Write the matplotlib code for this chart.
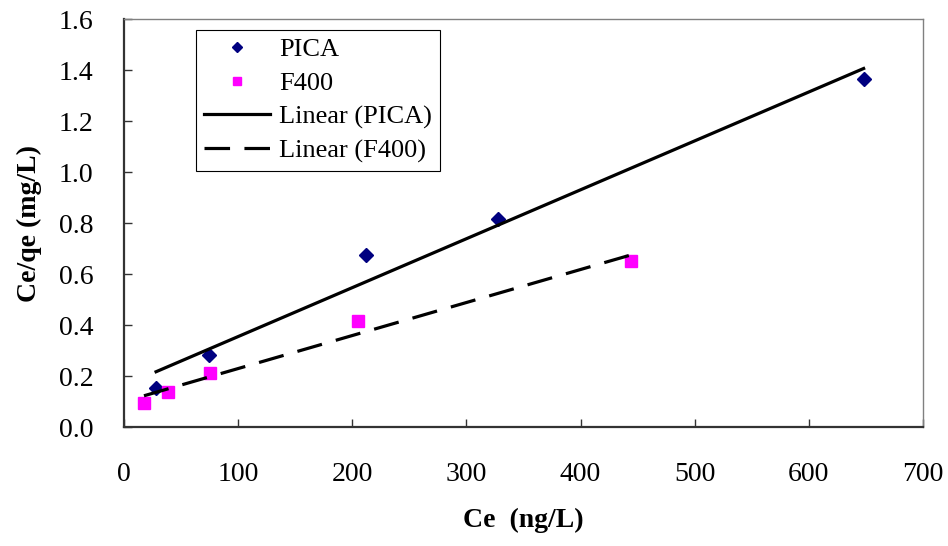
import numpy as np
import matplotlib.pyplot as plt

# data
pica_x = [28.1, 74.6, 212.3, 328.0, 648.0]
pica_y = [0.153, 0.282, 0.675, 0.816, 1.365]
f400_x = [17.5, 38.6, 75.4, 205.3, 443.9]
f400_y = [0.094, 0.137, 0.212, 0.416, 0.651]

x_ticks = [0, 100, 200, 300, 400, 500, 600, 700]
y_ticks = [0.0, 0.2, 0.4, 0.6, 0.8, 1.0, 1.2, 1.4, 1.6]

plt.rcParams['font.family'] = ['Liberation Serif', 'DejaVu Serif']

fig = plt.figure(figsize=(9.48, 5.46), dpi=100)
ax = fig.add_axes([0.1308, 0.2179, 0.8428, 0.7473])

ax.plot(pica_x, pica_y, linestyle='none', marker='D', markersize=7,
        color='#000080', label='PICA')
ax.plot(f400_x, f400_y, linestyle='none', marker='s', markersize=8,
        color='#FF00FF', label='F400')

# linear trendlines over the data range
p = np.polyfit(pica_x, pica_y, 1)
xs = np.array([min(pica_x), max(pica_x)])
ax.plot(xs, np.polyval(p, xs), color='black', lw=2.3, label='Linear (PICA)')

f = np.polyfit(f400_x, f400_y, 1)
xs = np.array([min(f400_x), max(f400_x)])
ax.plot(xs, np.polyval(f, xs), color='black', lw=2.3, dashes=(8, 4.5),
        label='Linear (F400)')

ax.set_xlim(0, 700)
ax.set_ylim(0, 1.6)
ax.set_xticks(x_ticks)
ax.set_yticks(y_ticks)
ax.set_yticklabels([f'{v:.1f}' for v in y_ticks])
ax.tick_params(direction='in', length=6, width=1, colors='#333333',
               labelcolor='black', labelsize=20)
ax.tick_params(axis='x', pad=25)
ax.tick_params(axis='y', pad=22)

for s in ['left', 'bottom']:
    ax.spines[s].set_color('#333333')
    ax.spines[s].set_linewidth(1.6)
for s in ['top', 'right']:
    ax.spines[s].set_color('#808080')
    ax.spines[s].set_linewidth(1.0)

ax.set_xlabel('Ce  (ng/L)', fontsize=20, fontweight='bold', labelpad=15)
ax.set_ylabel('Ce/qe (mg/L)', fontsize=20, fontweight='bold', labelpad=12)

leg = ax.legend(loc='upper left', bbox_to_anchor=(0.09, 0.973), borderaxespad=0,
                fontsize=19, frameon=True, fancybox=False, edgecolor='black',
                framealpha=1, handlelength=2.5, handletextpad=0.35,
                labelspacing=0.38, borderpad=0.3, markerscale=0.8)
leg.get_frame().set_linewidth(0.8)

fig.savefig('out.png', dpi=100)
